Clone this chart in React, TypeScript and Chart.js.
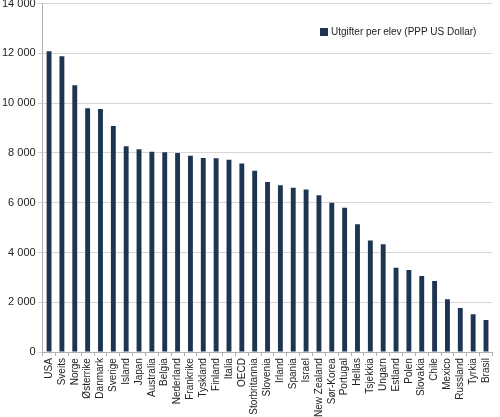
import React, { useEffect, useRef } from "react";
import Chart from "chart.js/auto";

const countries = [
  "USA", "Sveits", "Norge", "Østerrike", "Danmark", "Sverige", "Island", "Japan",
  "Australia", "Belgia", "Nederland", "Frankrike", "Tyskland", "Finland", "Italia", "OECD",
  "Storbritannia", "Slovenia", "Irland", "Spania", "Israel", "New Zealand", "Sør-Korea",
  "Portugal", "Hellas", "Tsjekkia", "Ungarn", "Estland", "Polen", "Slovakia", "Chile",
  "Mexico", "Russland", "Tyrkia", "Brasil",
];

const spending = [
  12090, 11880, 10720, 9800, 9770, 9080, 8270, 8150,
  8050, 8030, 8000, 7890, 7800, 7790, 7730, 7580,
  7280, 6830, 6700, 6600, 6530, 6300, 6000,
  5800, 5140, 4480, 4330, 3390, 3300, 3060, 2860,
  2120, 1770, 1520, 1290,
];

const seriesLabel = "Utgifter per elev (PPP US Dollar)";
const barColor = "#1d3550";

const fmt = (v: number) => String(v).replace(/\B(?=(\d{3})+(?!\d))/g, " ");

function App() {
  const chartRef = useRef(null);

  useEffect(() => {
    if (!chartRef.current) return;
    const ctx = (chartRef.current as HTMLCanvasElement).getContext("2d");
    if (!ctx) return;

    const chart = new Chart(ctx, {
      type: "bar",
      data: {
        labels: countries,
        datasets: [
          {
            label: seriesLabel,
            data: spending,
            backgroundColor: barColor,
            borderWidth: 0,
            categoryPercentage: 1,
            barPercentage: 0.38,
          },
        ],
      },
      options: {
        animation: false,
        responsive: true,
        maintainAspectRatio: false,
        layout: { padding: 0 },
        plugins: {
          legend: { display: false },
          tooltip: { enabled: false },
        },
        scales: {
          x: {
            grid: {
              offset: true,
              drawOnChartArea: false,
              tickLength: 4,
              color: "#b0b0b0",
            },
            border: { color: "#b0b0b0" },
            ticks: {
              autoSkip: false,
              maxRotation: 90,
              minRotation: 90,
              padding: 2,
              color: "#222",
              font: { family: "'Liberation Sans', Arial, sans-serif", size: 10 },
            },
          },
          y: {
            min: 0,
            max: 14000,
            grid: { color: "#d6d6d6", tickLength: 5 },
            border: { color: "#b0b0b0" },
            ticks: {
              stepSize: 2000,
              padding: 2,
              color: "#222",
              font: { family: "'Liberation Sans', Arial, sans-serif", size: 11 },
              callback: (v) => fmt(Number(v)),
            },
          },
        },
      },
    });

    return () => {
      chart.destroy();
    };
  }, []);

  return (
    <div style={{ position: "absolute", left: 0, top: 0, width: 500, height: 417, overflow: "hidden", background: "#fff" }}>
      <div style={{ position: "absolute", left: 0, top: -5, width: 500, height: 424 }}>
        <canvas ref={chartRef} />
      </div>
      <div
        style={{
          position: "absolute",
          left: 320,
          top: 26,
          display: "flex",
          alignItems: "center",
          fontFamily: "'Liberation Sans', Arial, sans-serif",
          fontSize: 10,
          color: "#222",
          whiteSpace: "nowrap",
        }}
      >
        <span style={{ width: 8, height: 8, background: barColor, display: "inline-block", marginRight: 3 }} />
        {seriesLabel}
      </div>
    </div>
  );
}

export default App;
